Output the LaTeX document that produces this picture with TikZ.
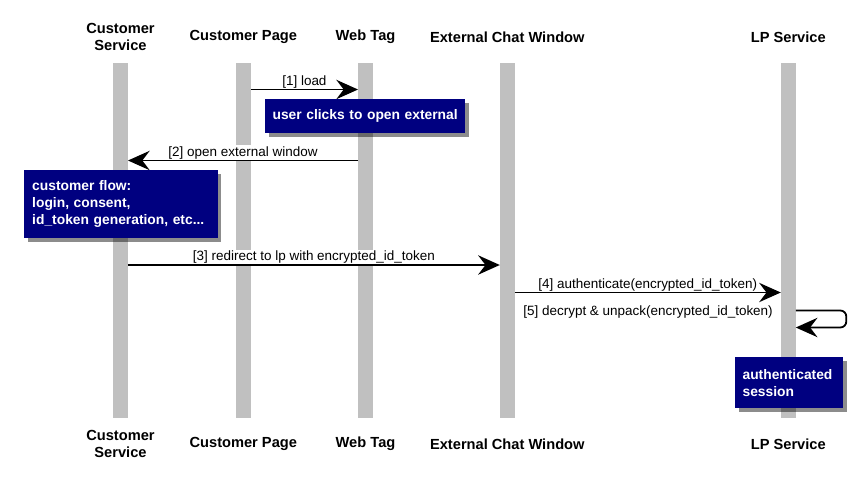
\documentclass[tikz,border=0pt]{standalone}
\usepackage{fontspec}
\setmainfont{Liberation Sans}
\usetikzlibrary{arrows.meta, calc, positioning, shadows}
\definecolor{barGray}{HTML}{C0C0C0}
\definecolor{noteBlue}{HTML}{000080}
\tikzset{
  lifeline/.style ={fill=barGray, draw=none, inner sep=0pt, minimum width=4.35mm, minimum height=106.5mm},
  actor/.style    ={font=\bfseries\fontsize{12.5}{14.5}\selectfont, align=center},
  msg/.style      ={-{Stealth[length=6.5mm, width=5.8mm, inset=2.2mm]}, line width=0.55mm}, % call arrow
  mlbl/.style     ={fill=white, inner sep=1pt, font=\fontsize{11.5}{13}\selectfont},
  notebox/.style  ={fill=noteBlue, text=white, font=\bfseries\fontsize{11.8}{14.5}\selectfont, align=left,
                    anchor=north west, inner xsep=2.2mm,
                    drop shadow={shadow xshift=1.1mm, shadow yshift=-1.1mm, fill=black, opacity=0.45}},
}

\begin{document}
\begin{tikzpicture}[x=0.3mm, y=-0.3mm]
  \useasboundingbox (0,0) rectangle (867,479);
  % lifelines
  \node[lifeline] (cs)  at (120.5,240.5) {};
  \node[lifeline] (cp)  at (243.3,240.5) {};
  \node[lifeline] (wt)  at (365.5,240.5) {};
  \node[lifeline] (ecw) at (507.3,240.5) {};
  \node[lifeline] (lp)  at (788.3,240.5) {};
  % heads and feet
  \node[actor] (hcs)  at (120.5,37) {Customer\\Service};
  \node[actor] (hcp)  at (243.3,37) {Customer Page};
  \node[actor] (hwt)  at (365.5,37) {Web Tag};
  \node[actor] (hecw) at (507.3,37) {External Chat Window};
  \node[actor] (hlp)  at (788.3,37) {LP Service};
  \node[actor] (fcs)  at (120.5,444) {Customer\\Service};
  \node[actor] (fcp)  at (243.3,444) {Customer Page};
  \node[actor] (fwt)  at (365.5,444) {Web Tag};
  \node[actor] (fecw) at (507.3,444) {External Chat Window};
  \node[actor] (flp)  at (788.3,444) {LP Service};
  % message rows
  \coordinate (r1) at (0,89.5);
  \coordinate (r2) at (0,160.5);
  \coordinate (r3) at (0,265);
  \coordinate (r4) at (0,292.5);
  \coordinate (r5) at (0,310.5);
  \coordinate (r5b) at (0,327.5);
  \node[mlbl, anchor=south] (l1) at ($(cp.east |- r1)!0.5!(wt.west |- r1)$) {[1] load};
  \draw[msg] (cp.east |- r1) -- (wt.west |- r1);
  \node[mlbl, anchor=south] (l2) at ($(cs.east |- r2)!0.5!(wt.west |- r2)$) {[2] open external window};
  \draw[msg] (wt.west |- r2) -- (cs.east |- r2);
  \node[mlbl, anchor=south] (l3) at ($(cs.east |- r3)!0.5!(ecw.west |- r3)$) {[3] redirect to lp with encrypted\_id\_token};
  \draw[msg] (cs.east |- r3) -- (ecw.west |- r3);
  \node[mlbl, anchor=south] (l4) at ($(ecw.east |- r4)!0.5!(lp.west |- r4)$) {[4] authenticate(encrypted\_id\_token)};
  \draw[msg] (ecw.east |- r4) -- (lp.west |- r4);
  \node[mlbl, anchor=east, xshift=-2mm, yshift=-0.4mm] (l5) at (lp.west |- r5) {[5] decrypt \& unpack(encrypted\_id\_token)};
  \draw[msg, rounded corners=1.8mm] (lp.east |- r5) -- ++(50.5,0) -- ++(0,17) -- (lp.east |- r5b);
  % notes
  \node[notebox, text width=55.6mm, minimum height=10.2mm] (n1) at (265,99) {user clicks to open external};
  \node[notebox, text width=53.2mm, minimum height=20.4mm, inner xsep=2.4mm] (n2) at (24,170)
    {customer flow:\\login, consent,\\id\_token generation, etc...};
  \node[notebox, text width=28mm, minimum height=15.3mm] (n3) at (735,357) {authenticated\\session};
\end{tikzpicture}
\end{document}
